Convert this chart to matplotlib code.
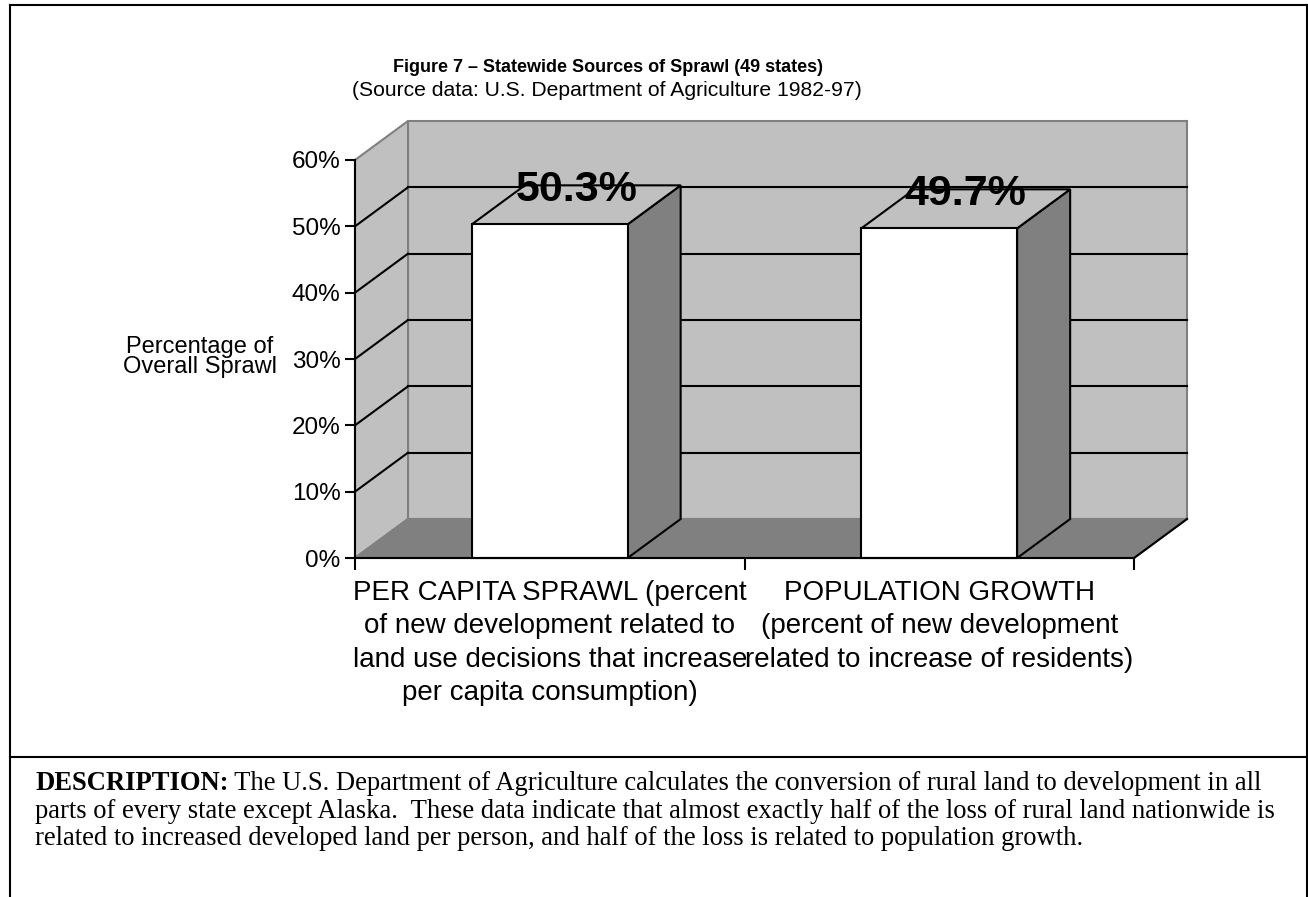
import matplotlib
matplotlib.use("Agg")
import matplotlib.pyplot as plt
from matplotlib.patches import Polygon, Rectangle
from matplotlib.lines import Line2D

# ---------------- data ----------------
categories = [
    "PER CAPITA SPRAWL (percent\nof new development related to\nland use decisions that increase\nper capita consumption)",
    "POPULATION GROWTH\n(percent of new development\nrelated to increase of residents)",
]
values = [50.3, 49.7]
value_labels = ["50.3%", "49.7%"]
y_ticks = [0, 10, 20, 30, 40, 50, 60]
y_tick_labels = ["0%", "10%", "20%", "30%", "40%", "50%", "60%"]
title = "Figure 7 \u2013 Statewide Sources of Sprawl (49 states)"
subtitle = "(Source data: U.S. Department of Agriculture 1982-97)"
y_label = "Percentage of\nOverall Sprawl"
desc_bold = "DESCRIPTION:"
desc_line1 = " The U.S. Department of Agriculture calculates the conversion of rural land to development in all"
desc_line2 = "parts of every state except Alaska.  These data indicate that almost exactly half of the loss of rural land nationwide is"
desc_line3 = "related to increased developed land per person, and half of the loss is related to population growth."

# ---------------- style ----------------
W, H, DPI = 1308, 897, 100
WALL = "#C0C0C0"
DARK = "#808080"
SANS = "Liberation Sans"
SERIF = "Liberation Serif"
depth_px = (53, 39)
bar_width = 0.4

fig = plt.figure(figsize=(W / DPI, H / DPI), dpi=DPI)
fig.patch.set_facecolor("white")

# front plane of the chart = axes data area
ax_l, ax_r, ax_t, ax_b = 355, 1134, 160, 558
ax = fig.add_axes([ax_l / W, 1 - ax_b / H, (ax_r - ax_l) / W, (ax_b - ax_t) / H])
ax.set_facecolor("none")
n = len(categories)
ymax = y_ticks[-1]
ax.set_xlim(0, n)
ax.set_ylim(0, ymax)

# depth offset in data units
dx = depth_px[0] / ((ax_r - ax_l) / n)
dy = depth_px[1] / ((ax_b - ax_t) / ymax)

# back wall
ax.add_patch(Polygon([(dx, dy), (n + dx, dy), (n + dx, ymax + dy), (dx, ymax + dy)],
                     closed=True, facecolor=WALL, edgecolor=DARK, lw=1.5, clip_on=False, zorder=1))
# left wall
ax.add_patch(Polygon([(0, 0), (dx, dy), (dx, ymax + dy), (0, ymax)],
                     closed=True, facecolor=WALL, edgecolor=DARK, lw=1.5, clip_on=False, zorder=1))
# floor
ax.add_patch(Polygon([(0, 0), (n, 0), (n + dx, dy), (dx, dy)],
                     closed=True, facecolor=DARK, edgecolor=DARK, lw=1.5, clip_on=False, zorder=1.1))
ax.add_line(Line2D([n, n + dx], [0, dy], color="black", lw=1.5, clip_on=False, zorder=1.2))

# gridlines on back wall and left wall
for t in y_ticks[1:-1]:
    ax.add_line(Line2D([dx, n + dx], [t + dy, t + dy], color="black", lw=1.5, clip_on=False, zorder=1.3))
    ax.add_line(Line2D([0, dx], [t, t + dy], color="black", lw=1.5, clip_on=False, zorder=1.3))

# bars
for i, v in enumerate(values):
    c = i + 0.5
    x0, x1 = c - bar_width / 2, c + bar_width / 2
    ax.add_patch(Polygon([(x1, 0), (x1 + dx, dy), (x1 + dx, v + dy), (x1, v)],
                         closed=True, facecolor=DARK, edgecolor="black", lw=1.5, clip_on=False, zorder=3))
    ax.add_patch(Polygon([(x0, v), (x1, v), (x1 + dx, v + dy), (x0 + dx, v + dy)],
                         closed=True, facecolor=WALL, edgecolor="black", lw=1.5, clip_on=False, zorder=3))
    ax.add_patch(Rectangle((x0, 0), bar_width, v, facecolor="white", edgecolor="black",
                           lw=1.5, clip_on=False, zorder=3))
    ax.annotate(value_labels[i], xy=(c + dx / 2, v + dy / 2), xytext=(0, 3),
                textcoords="offset points", ha="center", va="baseline",
                fontsize=31, fontweight="bold", family=SANS, zorder=4, annotation_clip=False)

# axes: spines and ticks
for s in ["top", "right"]:
    ax.spines[s].set_visible(False)
for s in ["left", "bottom"]:
    ax.spines[s].set_linewidth(1.5)
    ax.spines[s].set_zorder(3.5)

ax.set_yticks(y_ticks, y_tick_labels)
ax.tick_params(axis="y", direction="out", length=7, width=1.5, pad=3.5, labelsize=17.5)
ax.set_xticks(range(n + 1))
ax.set_xticklabels([])
ax.tick_params(axis="x", which="major", direction="out", length=8.5, width=1.5)
ax.set_xticks([i + 0.5 for i in range(n)], minor=True)
ax.set_xticklabels(categories, minor=True, fontsize=20, family=SANS, linespacing=1.36)
ax.tick_params(axis="x", which="minor", length=0, pad=16)
for lab in ax.get_yticklabels():
    lab.set_family(SANS)

ax.set_ylabel(y_label, rotation=0, fontsize=17, family=SANS, ha="center", va="center",
              linespacing=0.92)
ax.yaxis.set_label_coords((200 - ax_l) / (ax_r - ax_l), (ax_b - 357) / (ax_b - ax_t))

# titles
fig.text(608 / W, 1 - 67 / H, title, ha="center", va="center", fontsize=13,
         fontweight="bold", family=SANS)
fig.text(607 / W, 1 - 91 / H, subtitle, ha="center", va="center", fontsize=15.2, family=SANS)

# frame lines
lw_frame = 1.5
def fig_line(xs, ys):
    fig.add_artist(Line2D([x / W for x in xs], [1 - y / H for y in ys],
                          transform=fig.transFigure, color="black", lw=lw_frame))
fig_line([10, 1306.5], [5, 5])
fig_line([10, 10], [5, H])
fig_line([1306.5, 1306.5], [5, H])
fig_line([10, 1306.5], [757, 757])

# description
dfs = 19.2
desc_x = 35
t_bold = fig.text(desc_x / W, 1 - 790 / H, desc_bold, ha="left", va="baseline", fontsize=dfs,
                  fontweight="bold", family=SERIF)
ax.annotate(desc_line1, xy=(1, 0), xycoords=t_bold, ha="left", va="bottom",
            fontsize=dfs, family=SERIF, annotation_clip=False)
fig.text(desc_x / W, 1 - 817.5 / H, desc_line2, ha="left", va="baseline", fontsize=dfs, family=SERIF)
fig.text(desc_x / W, 1 - 844.5 / H, desc_line3, ha="left", va="baseline", fontsize=dfs, family=SERIF)

fig.savefig("out.png", dpi=DPI)
